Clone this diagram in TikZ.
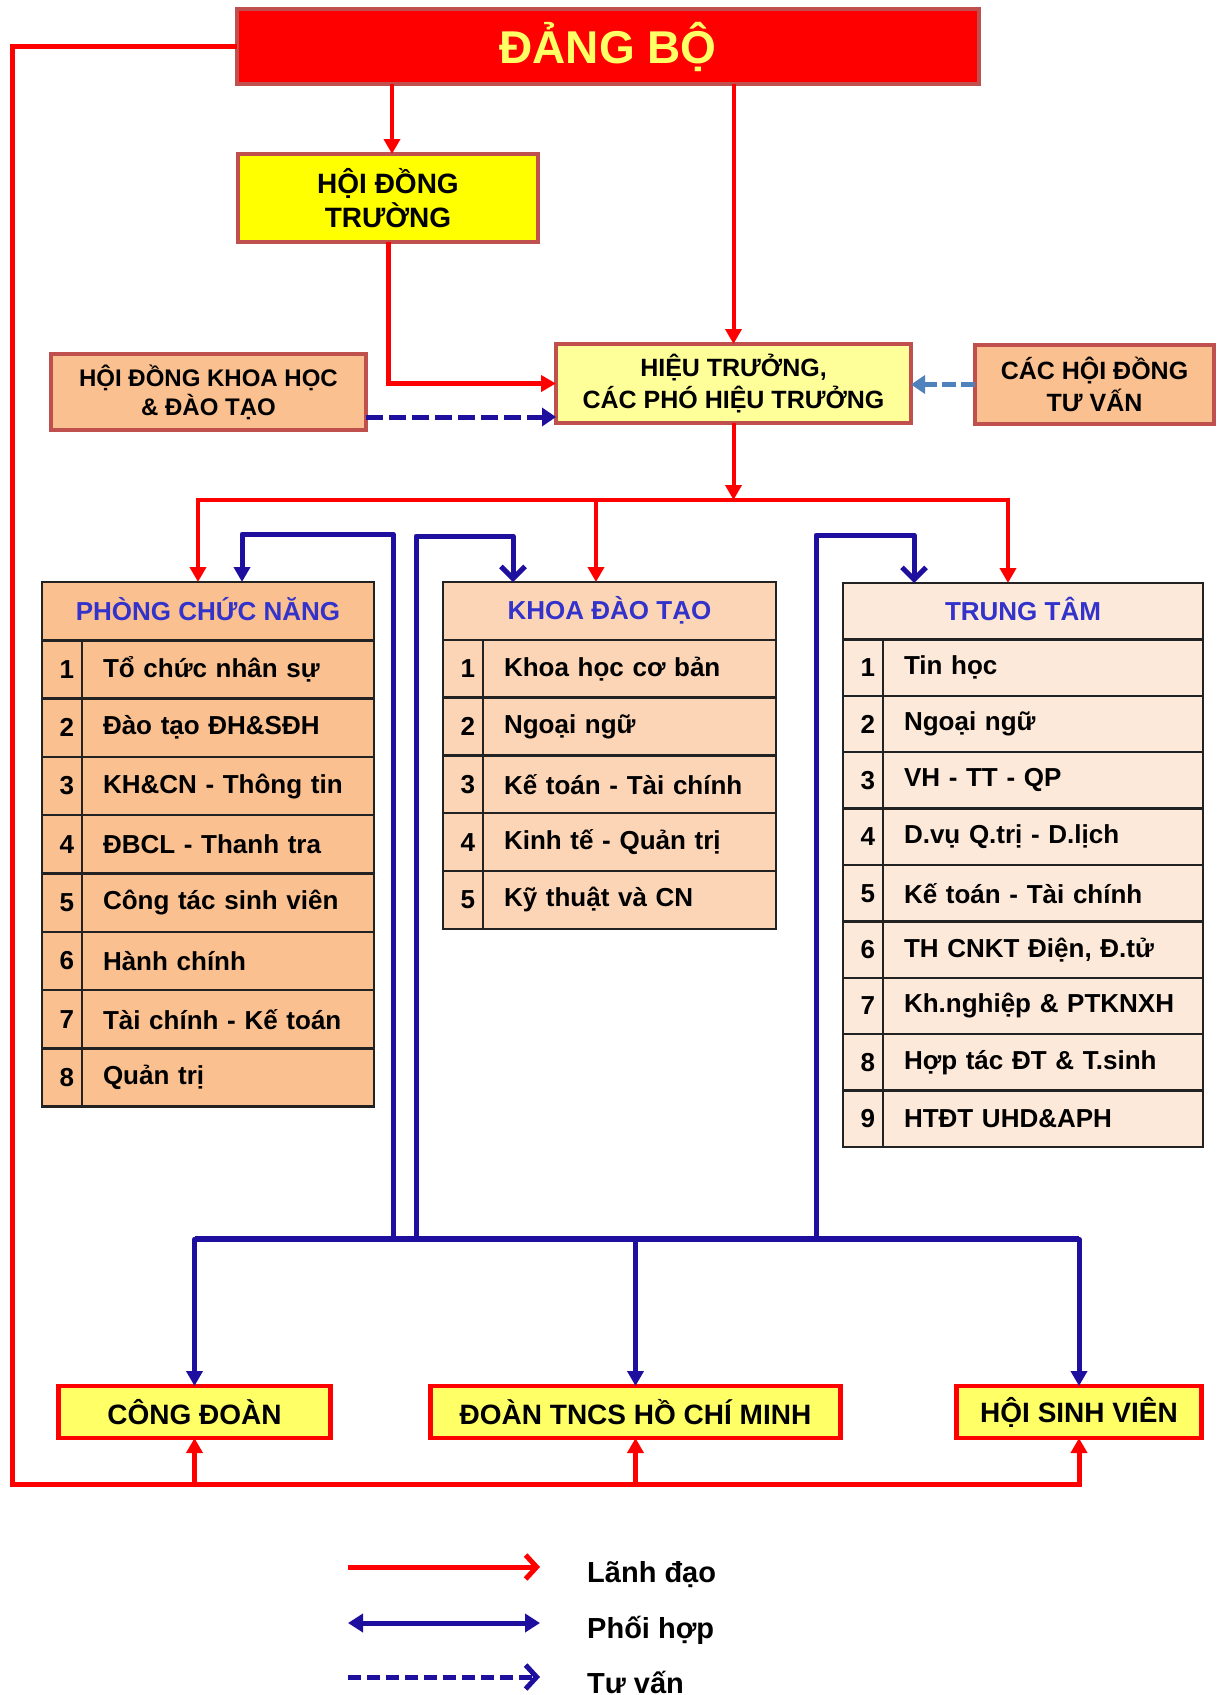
\documentclass[tikz,border=0pt]{standalone}
\usepackage{fontspec}
\setmainfont{Liberation Sans}
\usepackage{xcolor}
\usetikzlibrary{arrows.meta,positioning}
\definecolor{boxline}{HTML}{C0504D}
\definecolor{dbtext}{HTML}{FFFF66}
\definecolor{hdtfill}{HTML}{FFFF00}
\definecolor{htfill}{HTML}{FFFF99}
\definecolor{orfill}{HTML}{FAC090}
\definecolor{kdtfill}{HTML}{FBD5B5}
\definecolor{ttfill}{HTML}{FDE9D9}
\definecolor{unitfill}{HTML}{FFFF66}
\definecolor{coopblue}{HTML}{1F0F9F}
\definecolor{headblue}{HTML}{3333CC}
\definecolor{tvblue}{HTML}{4F81BD}
\definecolor{tabline}{HTML}{222222}
\tikzset{
    box/.style = {draw=boxline, line width=4pt, align=center, inner sep=0pt, outer sep=0pt, font=\bfseries\fontsize{25}{32}\selectfont},
    unit/.style = {draw=red, line width=4.5pt, fill=unitfill, inner sep=0pt, outer sep=0pt, minimum height=52pt, font=\bfseries\fontsize{28}{32}\selectfont},
    cell/.style = {draw=tabline, line width=2.5pt, inner sep=0pt, outer sep=0pt, font=\bfseries\fontsize{26}{30}\selectfont},
    head/.style = {cell, text=headblue, anchor=north west, text height=18pt, text depth=0pt},
    num/.style = {cell, text width=24pt, align=right, inner xsep=8pt},
    item/.style = {cell, align=left, inner xsep=21pt},
    pcn/.style = {fill=orfill, minimum height=58.3pt},
    kdt/.style = {fill=kdtfill, minimum height=57.8pt},
    tt/.style = {fill=ttfill, minimum height=56.4pt},
    lead/.style = {draw=red, line width=4pt, -{Triangle[width=16pt,length=15pt]}},
    coop/.style = {draw=coopblue, line width=5pt, line join=round},
    coopT/.style = {coop, -{Triangle[width=16pt,length=15pt]}},
    coopV/.style = {coop, -{Straight Barb[width=24pt,length=12pt]}},
    advise/.style = {line width=5pt, dash pattern=on 17pt off 6pt, -{Triangle[width=18pt,length=14pt]}},
    legend/.style = {anchor=base west, inner sep=0pt, font=\bfseries\fontsize{29}{32}\selectfont}
}
\begin{document}
\begin{tikzpicture}[x=1pt,y=-1pt]
    \fill[white] (0,0) rectangle (1228,1695);
    \useasboundingbox (0,0) rectangle (1228,1695);
    % top
    \node[box,fill=red,text=dbtext,font=\bfseries\fontsize{46}{50}\selectfont,minimum width=742pt,minimum height=75pt] (db) at (608,46.5) {ĐẢNG BỘ};
    \node[box,fill=hdtfill,font=\bfseries\fontsize{28}{34}\selectfont,minimum width=300pt,minimum height=88pt] (hdt) at (388,198) {HỘI ĐỒNG\\TRƯỜNG};
    \node[box,fill=htfill,minimum width=355pt,minimum height=79pt] (ht) at (733.5,383.5) {HIỆU TRƯỞNG,\\CÁC PHÓ HIỆU TRƯỞNG};
    \node[box,fill=orfill,font=\bfseries\fontsize{24}{29}\selectfont,minimum width=315pt,minimum height=76pt] (hdkh) at (208.5,392) {HỘI ĐỒNG KHOA HỌC\\\& ĐÀO TẠO};
    \node[box,fill=orfill,minimum width=239pt,minimum height=79pt] (hdtv) at (1094.5,384.5) {CÁC HỘI ĐỒNG\\TƯ VẤN};

    % phong chuc nang
    \node[head,pcn,minimum width=332pt] (p0) at (42,582) {PHÒNG CHỨC NĂNG};
    \node[num,pcn] (p1) [below right=0pt and 0pt of p0.south west] {1};
    \node[item,pcn,text width=250pt] (pt1) [right=0pt of p1] {Tổ chức nhân sự};
    \node[num,pcn] (p2) [below=0pt of p1] {2};
    \node[item,pcn,text width=250pt] (pt2) [right=0pt of p2] {Đào tạo ĐH\&SĐH};
    \node[num,pcn] (p3) [below=0pt of p2] {3};
    \node[item,pcn,text width=250pt] (pt3) [right=0pt of p3] {KH\&CN - Thông tin};
    \node[num,pcn] (p4) [below=0pt of p3] {4};
    \node[item,pcn,text width=250pt] (pt4) [right=0pt of p4] {ĐBCL - Thanh tra};
    \node[num,pcn] (p5) [below=0pt of p4] {5};
    \node[item,pcn,text width=250pt] (pt5) [right=0pt of p5] {Công tác sinh viên};
    \node[num,pcn] (p6) [below=0pt of p5] {6};
    \node[item,pcn,text width=250pt] (pt6) [right=0pt of p6] {Hành chính};
    \node[num,pcn] (p7) [below=0pt of p6] {7};
    \node[item,pcn,text width=250pt] (pt7) [right=0pt of p7] {Tài chính - Kế toán};
    \node[num,pcn] (p8) [below=0pt of p7] {8};
    \node[item,pcn,text width=250pt] (pt8) [right=0pt of p8] {Quản trị};

    % khoa dao tao
    \node[head,kdt,minimum width=333pt] (k0) at (443,582) {KHOA ĐÀO TẠO};
    \node[num,kdt] (k1) [below right=0pt and 0pt of k0.south west] {1};
    \node[item,kdt,text width=251pt] (kt1) [right=0pt of k1] {Khoa học cơ bản};
    \node[num,kdt] (k2) [below=0pt of k1] {2};
    \node[item,kdt,text width=251pt] (kt2) [right=0pt of k2] {Ngoại ngữ};
    \node[num,kdt] (k3) [below=0pt of k2] {3};
    \node[item,kdt,text width=251pt] (kt3) [right=0pt of k3] {Kế toán - Tài chính};
    \node[num,kdt] (k4) [below=0pt of k3] {4};
    \node[item,kdt,text width=251pt] (kt4) [right=0pt of k4] {Kinh tế - Quản trị};
    \node[num,kdt] (k5) [below=0pt of k4] {5};
    \node[item,kdt,text width=251pt] (kt5) [right=0pt of k5] {Kỹ thuật và CN};

    % trung tam
    \node[head,tt,minimum width=360pt] (t0) at (843,583) {TRUNG TÂM};
    \node[num,tt] (t1) [below right=0pt and 0pt of t0.south west] {1};
    \node[item,tt,text width=278pt] (tt1) [right=0pt of t1] {Tin học};
    \node[num,tt] (t2) [below=0pt of t1] {2};
    \node[item,tt,text width=278pt] (tt2) [right=0pt of t2] {Ngoại ngữ};
    \node[num,tt] (t3) [below=0pt of t2] {3};
    \node[item,tt,text width=278pt] (tt3) [right=0pt of t3] {VH - TT - QP};
    \node[num,tt] (t4) [below=0pt of t3] {4};
    \node[item,tt,text width=278pt] (tt4) [right=0pt of t4] {D.vụ Q.trị - D.lịch};
    \node[num,tt] (t5) [below=0pt of t4] {5};
    \node[item,tt,text width=278pt] (tt5) [right=0pt of t5] {Kế toán - Tài chính};
    \node[num,tt] (t6) [below=0pt of t5] {6};
    \node[item,tt,text width=278pt] (tt6) [right=0pt of t6] {TH CNKT Điện, Đ.tử};
    \node[num,tt] (t7) [below=0pt of t6] {7};
    \node[item,tt,text width=278pt] (tt7) [right=0pt of t7] {Kh.nghiệp \& PTKNXH};
    \node[num,tt] (t8) [below=0pt of t7] {8};
    \node[item,tt,text width=278pt] (tt8) [right=0pt of t8] {Hợp tác ĐT \& T.sinh};
    \node[num,tt] (t9) [below=0pt of t8] {9};
    \node[item,tt,text width=278pt] (tt9) [right=0pt of t9] {HTĐT UHD\&APH};

    % bottom
    \node[unit,minimum width=272pt] (cd) at (194.5,1412) {CÔNG ĐOÀN};
    \node[unit,minimum width=410pt] (dtn) at (635.5,1412) {ĐOÀN TNCS HỒ CHÍ MINH};
    \node[unit,minimum width=245pt] (hsv) at (1079,1412) {HỘI SINH VIÊN};

    % lanh dao
    \path ([xshift=4pt]db.south -| hdt.north) edge[lead] ([xshift=4pt]hdt.north);
    \path (db.south -| ht.north) edge[lead] (ht.north);
    \draw[lead,line width=5pt] (hdt.south) |- (ht.west);
    \coordinate (rp) at (198,500);
    \coordinate (rk) at (596,500);
    \coordinate (rt) at (1008,500);
    \path (ht.south) edge[lead] (ht.south |- rk);
    \draw[lead] (rk) -| (rp |- p0.north);
    \draw[lead] (rk) -| (rt |- t0.north);
    \path (rk) edge[lead] (rk |- k0.north);
    \coordinate (rl) at (12,1484);
    \draw[lead,line width=5pt] (db.west) -| (rl) -| (hsv.south);
    \path (cd.south |- rl) edge[lead,line width=5pt] (cd.south);
    \path (dtn.south |- rl) edge[lead,line width=5pt] (dtn.south);

    % tu van
    \path ([yshift=-25pt]hdkh.east) edge[advise,draw=coopblue] ([yshift=-25pt]hdkh.east -| ht.west);
    \path (hdtv.west) edge[advise,draw=tvblue,dash pattern=on 14pt off 5pt] (hdtv.west -| ht.east);

    % phoi hop
    \coordinate (bm) at (636,1239);
    \draw[coop,line width=6pt] (cd.north |- bm) -- (hsv.north |- bm);
    \draw[coopT] (bm) -| (cd.north);
    \draw[coopT] (bm) -| (hsv.north);
    \path (dtn.north |- bm) edge[coopT] (dtn.north);
    \coordinate (bp) at (393,1239);
    \coordinate (qp) at (242,534);
    \draw[coopT] (bp) |- (qp) -- (qp |- p0.north);
    \coordinate (bk) at (416,1239);
    \coordinate (qk) at (513,536);
    \draw[coopV] (bk) |- (qk) -- (qk |- k0.north);
    \coordinate (bt) at (816,1239);
    \coordinate (qt) at (914,535);
    \draw[coopV] (bt) |- (qt) -- (qt |- t0.north);

    % legend
    \node[legend] (l1) at (587,1582) {Lãnh đạo};
    \node[legend] (l2) at (587,1638) {Phối hợp};
    \node[legend] (l3) at (587,1693) {Tư vấn};
    \coordinate (la) at (348,1567);
    \coordinate (lb) at (348,1623);
    \coordinate (lc) at (348,1677);
    \draw[red,line width=5pt,-{Straight Barb[width=24pt,length=11pt]},shorten >=47pt] (la) -- (la -| l1.west);
    \draw[coopblue,line width=5pt,{Triangle[width=18pt,length=15pt]}-{Triangle[width=18pt,length=15pt]},shorten >=47pt] (lb) -- (lb -| l2.west);
    \draw[coopblue,line width=5pt,dash pattern=on 13pt off 6pt,-{Straight Barb[width=24pt,length=11pt]},shorten >=47pt] (lc) -- (lc -| l3.west);
\end{tikzpicture}
\end{document}
